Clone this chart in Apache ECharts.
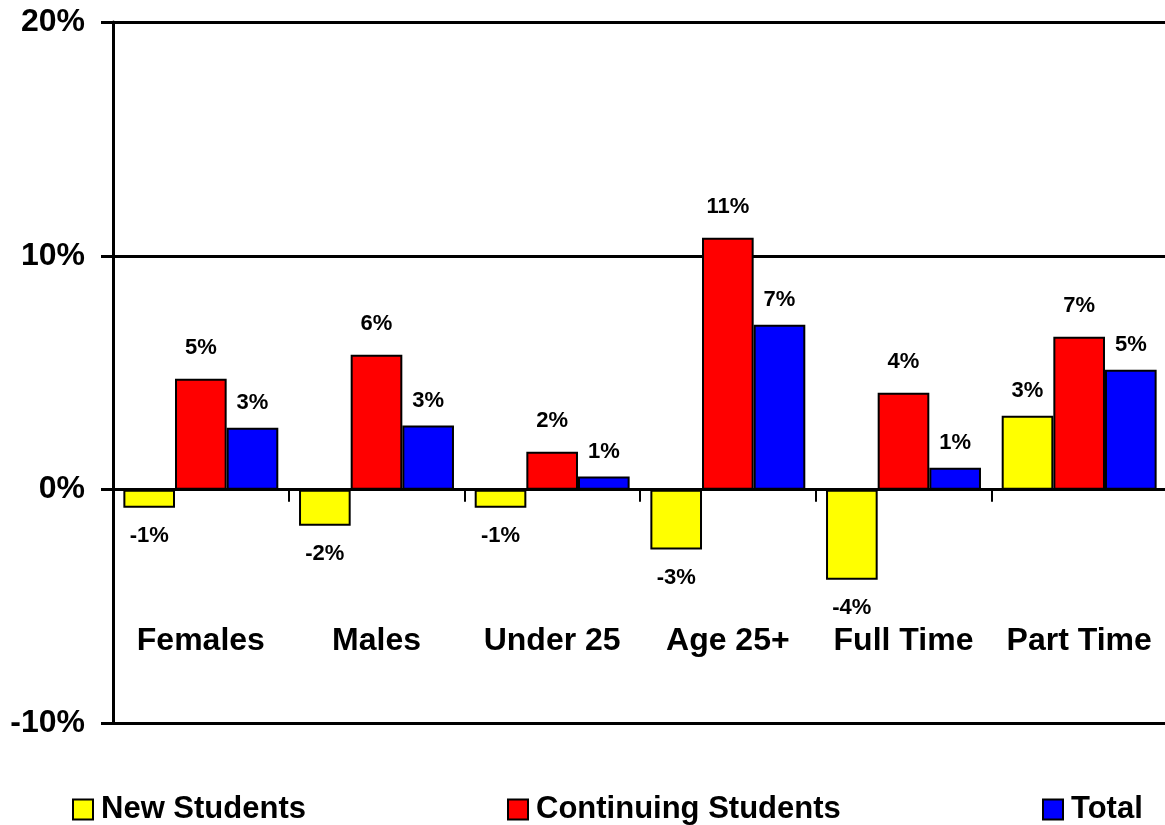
<!DOCTYPE html>
<html>
<head>
<meta charset="utf-8">
<script src="https://cdn.jsdelivr.net/npm/echarts@6/dist/echarts.min.js"></script>
<style>
html,body{margin:0;padding:0;background:#fff;}
#chart{width:1165px;height:825px;}
</style>
</head>
<body>
<div id="chart"></div>
<script>
var categories = ['Females', 'Males', 'Under 25', 'Age 25+', 'Full Time', 'Part Time'];
var newStudents = [-0.77, -1.54, -0.77, -2.56, -3.85, 3.16];
var continuingStudents = [4.74, 5.77, 1.62, 10.77, 4.15, 6.54];
var totalStudents = [2.65, 2.74, 0.56, 7.05, 0.94, 5.13];
var yTicks = { min: -10, max: 20, interval: 10 };

var FONT = "'Liberation Sans', Arial, Helvetica, sans-serif";

function makeData(vals, posDist, negDist) {
  return vals.map(function (v) {
    return {
      value: v,
      label: { position: v < 0 ? 'bottom' : 'top', distance: v < 0 ? negDist : posDist }
    };
  });
}

function makeSeries(name, color, vals, posDist) {
  return {
    name: name,
    type: 'bar',
    barGap: '0%',
    barCategoryGap: '11.8%',
    data: makeData(vals, posDist, 17),
    itemStyle: { color: color, borderColor: '#000', borderWidth: 2 },
    label: {
      show: true,
      color: '#000',
      fontFamily: FONT,
      fontWeight: 'bold',
      fontSize: 22,
      formatter: function (p) { return Math.round(p.value) + '%'; }
    }
  };
}

function makeLegend(name, left) {
  return {
    data: [name],
    left: left,
    top: 789,
    icon: 'rect',
    itemWidth: 20,
    itemHeight: 20,
    selectedMode: false,
    textStyle: {
      color: '#000', fontFamily: FONT, fontWeight: 'bold', fontSize: 31,
      padding: [0, 0, 0, 3]
    }
  };
}

var chart = echarts.init(document.getElementById('chart'), null, { renderer: 'canvas' });
chart.setOption({
  animation: false,
  backgroundColor: '#fff',
  grid: { left: 113, right: -2, top: 22, bottom: 101.5, containLabel: false, outerBoundsMode: 'none' },
  legend: [
    makeLegend('New Students', 67),
    makeLegend('Continuing Students', 502),
    makeLegend('Total', 1037)
  ],
  xAxis: {
    type: 'category',
    data: categories,
    axisLine: { show: true, onZero: true, lineStyle: { color: '#000', width: 3 } },
    axisTick: { show: true, length: 12, alignWithLabel: false, lineStyle: { color: '#000', width: 2 } },
    axisLabel: {
      interval: 0, margin: -98, color: '#000',
      fontFamily: FONT, fontWeight: 'bold', fontSize: 32
    },
    splitLine: { show: false }
  },
  yAxis: {
    type: 'value',
    min: yTicks.min, max: yTicks.max, interval: yTicks.interval,
    axisLine: { show: true, lineStyle: { color: '#000', width: 3 } },
    axisTick: { show: true, length: 12, inside: false, lineStyle: { color: '#000', width: 3 } },
    axisLabel: {
      margin: 28, color: '#000', formatter: '{value}%',
      fontFamily: FONT, fontWeight: 'bold', fontSize: 32
    },
    splitLine: { show: true, lineStyle: { color: '#000', width: 3 } }
  },
  series: [
    makeSeries('New Students', '#FFFF00', newStudents, 14),
    makeSeries('Continuing Students', '#FF0000', continuingStudents, 20),
    makeSeries('Total', '#0000FF', totalStudents, 14)
  ]
});
</script>
</body>
</html>
